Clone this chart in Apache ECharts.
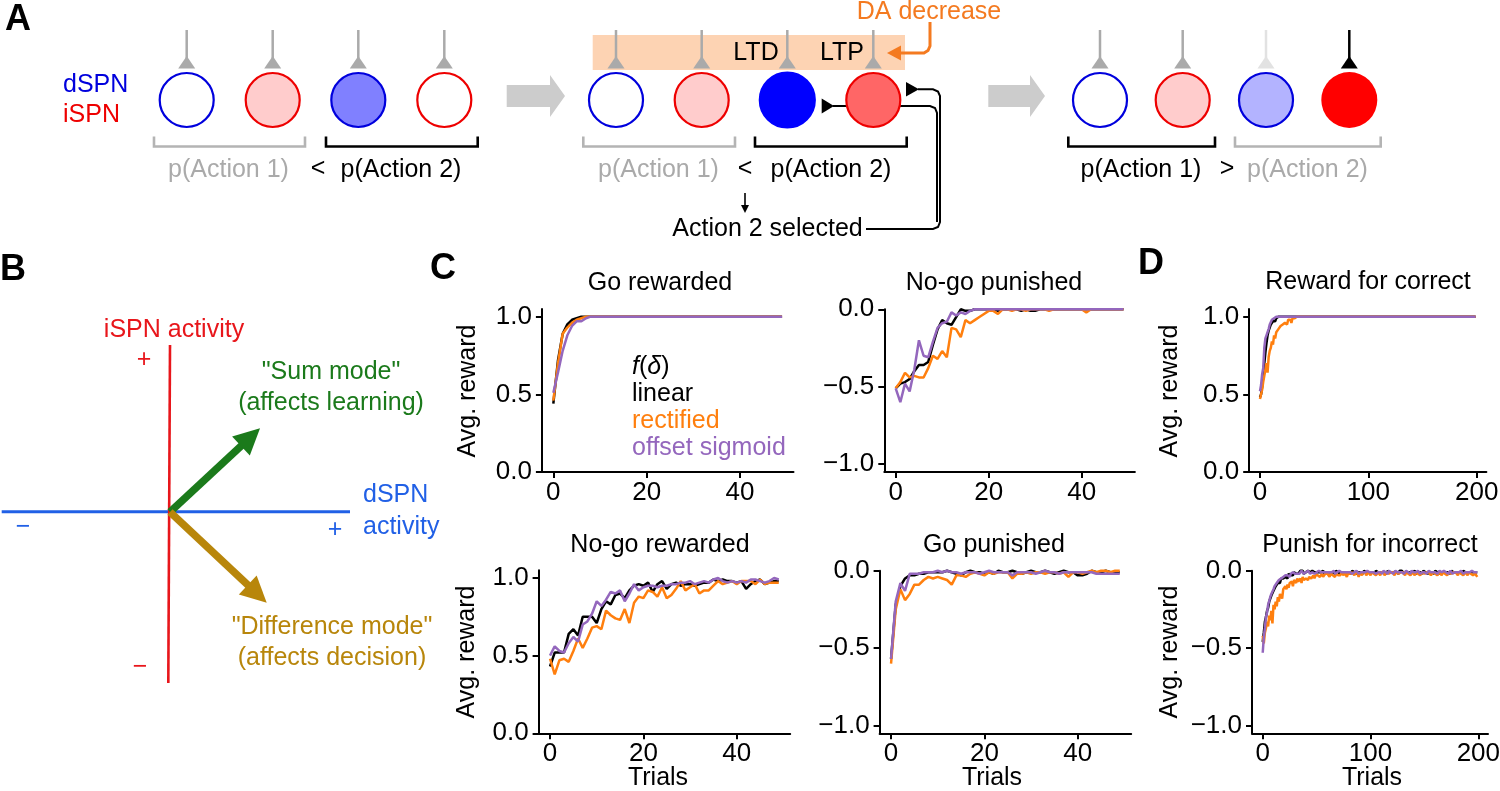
<!DOCTYPE html>
<html>
<head>
<meta charset="utf-8">
<script src="https://cdn.jsdelivr.net/npm/echarts@6/dist/echarts.min.js"></script>
<style>
  html, body { margin: 0; background: #fff; }
  #main { width: 1500px; height: 791px; }
</style>
</head>
<body>
<div id="main"></div>
<script>
// ---- data ----
// x of every series is the trial index 0..N-1
const xTicksC = [0, 20, 40];
const xTicksD = [0, 100, 200];
const yTicksReward = [0, 0.5, 1];
const yTicksPunish = [-1, -0.5, 0];
const fNames = ['linear', 'rectified', 'offset sigmoid'];

// C: Go rewarded
const goRewardedLinear = [
  0.44,0.72,0.89,0.95,0.98,0.99,1,1,1,1,
  1,1,1,1,1,1,1,1,1,1,
  1,1,1,1,1,1,1,1,1,1,
  1,1,1,1,1,1,1,1,1,1,
  1,1,1,1,1,1,1,1,1,1];
const goRewardedRectified = [
  0.46,0.70,0.89,0.93,0.96,0.98,0.99,1,1,1,
  1,1,1,1,1,1,1,1,1,1,
  1,1,1,1,1,1,1,1,1,1,
  1,1,1,1,1,1,1,1,1,1,
  1,1,1,1,1,1,1,1,1,1];
const goRewardedSigmoid = [
  0.51,0.64,0.78,0.88,0.94,0.97,0.97,0.99,1,1,
  1,1,1,1,1,1,1,1,1,1,
  1,1,1,1,1,1,1,1,1,1,
  1,1,1,1,1,1,1,1,1,1,
  1,1,1,1,1,1,1,1,1,1];

// C: No-go punished
const noGoPunishedLinear = [
  -0.51,-0.48,-0.47,-0.45,-0.40,-0.36,-0.36,-0.34,-0.23,-0.13,
  -0.07,-0.09,-0.10,-0.05,0,-0.01,-0.01,0,0,0,
  0,0,-0.01,0,0,0,0,-0.01,0,-0.01,
  -0.01,0,0,0,0,0,0,0,0,0,
  0,0,0,0,0,0,0,0,0,0];
const noGoPunishedRectified = [
  -0.51,-0.47,-0.41,-0.44,-0.43,-0.44,-0.44,-0.38,-0.30,-0.32,
  -0.27,-0.31,-0.12,-0.13,-0.18,-0.07,-0.09,-0.07,-0.05,-0.03,
  -0.01,-0.01,-0.03,0,0,-0.01,0,0,-0.01,0,
  0,0,0,-0.01,0,0,0,0,0,0,
  0,-0.02,0,0,0,0,0,0,0,0];
const noGoPunishedSigmoid = [
  -0.51,-0.60,-0.48,-0.53,-0.39,-0.20,-0.30,-0.31,-0.21,-0.12,
  -0.09,-0.08,-0.02,-0.04,-0.02,-0.03,-0.01,0,0,0,
  0,0,0,0,0,0,0,0,0,0,
  0,0,0,0,0,0,0,0,0,0,
  0,0,0,0,0,0,0,0,0,0];

// C: No-go rewarded
const noGoRewardedLinear = [
  0.43,0.52,0.52,0.52,0.64,0.67,0.63,0.75,0.75,0.75,
  0.71,0.80,0.85,0.83,0.89,0.90,0.87,0.92,0.95,0.96,
  0.95,0.97,0.91,0.96,0.98,0.93,0.96,0.97,0.95,0.96,
  0.96,0.95,0.96,0.97,0.97,0.99,0.98,0.99,0.98,0.98,
  0.97,0.98,0.93,0.96,0.98,0.99,0.96,0.97,0.98,0.98];
const noGoRewardedRectified = [
  0.48,0.38,0.47,0.48,0.46,0.53,0.61,0.55,0.61,0.68,
  0.69,0.67,0.79,0.76,0.74,0.73,0.80,0.71,0.84,0.88,
  0.87,0.92,0.91,0.88,0.94,0.87,0.89,0.93,0.98,0.92,
  0.94,0.96,0.90,0.92,0.92,0.95,0.98,0.96,0.97,0.98,
  0.96,0.98,0.98,0.98,0.96,0.99,0.96,0.97,0.97,0.97];
const noGoRewardedSigmoid = [
  0.50,0.56,0.53,0.52,0.58,0.62,0.59,0.70,0.72,0.77,
  0.85,0.82,0.86,0.91,0.90,0.92,0.85,0.90,0.96,0.92,
  0.94,0.95,0.95,0.94,0.95,0.95,0.96,0.96,0.97,0.97,
  0.98,0.96,0.97,0.98,0.97,0.99,1.00,0.98,0.97,0.98,
  0.97,0.98,0.97,0.99,0.99,0.98,0.97,0.98,1.00,0.99];

// C: Go punished
const goPunishedLinear = [
  -0.57,-0.22,-0.10,-0.05,-0.03,-0.03,-0.02,-0.02,-0.01,-0.01,
  -0.01,-0.01,0,-0.01,-0.02,-0.03,-0.01,0,-0.01,-0.01,
  -0.02,-0.01,-0.02,0,-0.01,-0.01,0,-0.01,-0.02,-0.01,
  0,-0.01,-0.01,0,-0.01,-0.02,-0.01,0,-0.01,-0.01,
  -0.03,-0.03,-0.02,0,-0.01,-0.01,0,-0.01,-0.01,-0.01];
const goPunishedRectified = [
  -0.60,-0.25,-0.12,-0.19,-0.15,-0.09,-0.09,-0.06,-0.04,-0.05,
  -0.04,-0.05,-0.06,-0.09,-0.03,-0.03,-0.04,-0.02,-0.01,-0.02,
  -0.03,-0.01,-0.02,-0.01,-0.01,-0.01,-0.05,-0.02,-0.02,-0.01,
  -0.02,-0.01,-0.01,-0.02,-0.01,-0.01,-0.02,-0.01,-0.04,-0.01,
  -0.01,-0.02,-0.01,0,-0.01,0,0,-0.01,0,0];
const goPunishedSigmoid = [
  -0.57,-0.20,-0.08,-0.13,-0.02,-0.02,-0.02,-0.01,-0.01,-0.01,
  0,-0.01,0,-0.01,-0.01,-0.02,-0.01,-0.01,-0.01,-0.02,
  -0.01,0,-0.01,-0.01,-0.01,-0.01,-0.03,-0.01,-0.01,-0.01,
  -0.01,-0.02,-0.01,0,-0.01,-0.01,-0.02,-0.01,-0.01,-0.01,
  -0.01,-0.01,-0.01,-0.01,-0.02,-0.02,-0.02,-0.02,-0.02,-0.02];

// D: Reward for correct (200 trials)
const rewardCorrectLinear = [
  0.48,0.50,0.55,0.62,0.70,0.77,0.83,0.88,0.91,0.93,0.95,0.95,0.97,0.98,0.97,0.99,0.99,1,0.99,1,
  1,1,1,1,1,1,1,1,1,1,1,1,1,1,1,1,1,1,1,1,
  1,1,1,1,1,1,1,1,1,1,1,1,1,1,1,1,1,1,1,1,
  1,1,1,1,1,1,1,1,1,1,1,1,1,1,1,1,1,1,1,1,
  1,1,1,1,1,1,1,1,1,1,1,1,1,1,1,1,1,1,1,1,
  1,1,1,1,1,1,1,1,1,1,1,1,1,1,1,1,1,1,1,1,
  1,1,1,1,1,1,1,1,1,1,1,1,1,1,1,1,1,1,1,1,
  1,1,1,1,1,1,1,1,1,1,1,1,1,1,1,1,1,1,1,1,
  1,1,1,1,1,1,1,1,1,1,1,1,1,1,1,1,1,1,1,1,
  1,1,1,1,1,1,1,1,1,1,1,1,1,1,1,1,1,1,1,1];
const rewardCorrectRectified = [
  0.47,0.50,0.53,0.58,0.62,0.66,0.70,0.64,0.74,0.78,0.80,0.84,0.82,0.88,0.86,0.90,0.89,0.92,0.91,0.94,
  0.93,0.95,0.94,0.96,0.97,0.95,0.98,0.97,0.98,0.96,0.99,0.98,0.99,0.99,1,0.99,1,1,1,1,
  1,1,1,1,1,1,1,1,1,1,1,1,1,1,1,1,1,1,1,1,
  1,1,1,1,1,1,1,1,1,1,1,1,1,1,1,1,1,1,1,1,
  1,1,1,1,1,1,1,1,1,1,1,1,1,1,1,1,1,1,1,1,
  1,1,1,1,1,1,1,1,1,1,1,1,1,1,1,1,1,1,1,1,
  1,1,1,1,1,1,1,1,1,1,1,1,1,1,1,1,1,1,1,1,
  1,1,1,1,1,1,1,1,1,1,1,1,1,1,1,1,1,1,1,1,
  1,1,1,1,1,1,1,1,1,1,1,1,1,1,1,1,1,1,1,1,
  1,1,1,1,1,1,1,1,1,1,1,1,1,1,1,1,1,1,1,1];
const rewardCorrectSigmoid = [
  0.52,0.56,0.63,0.67,0.80,0.86,0.88,0.90,0.92,0.95,0.94,0.98,0.97,0.99,0.98,1,0.99,1,1,1,
  1,1,1,1,1,1,1,1,1,1,1,1,1,1,1,1,1,1,1,1,
  1,1,1,1,1,1,1,1,1,1,1,1,1,1,1,1,1,1,1,1,
  1,1,1,1,1,1,1,1,1,1,1,1,1,1,1,1,1,1,1,1,
  1,1,1,1,1,1,1,1,1,1,1,1,1,1,1,1,1,1,1,1,
  1,1,1,1,1,1,1,1,1,1,1,1,1,1,1,1,1,1,1,1,
  1,1,1,1,1,1,1,1,1,1,1,1,1,1,1,1,1,1,1,1,
  1,1,1,1,1,1,1,1,1,1,1,1,1,1,1,1,1,1,1,1,
  1,1,1,1,1,1,1,1,1,1,1,1,1,1,1,1,1,1,1,1,
  1,1,1,1,1,1,1,1,1,1,1,1,1,1,1,1,1,1,1,1];

// D: Punish for incorrect (200 trials)
const punishIncorrectLinear = [
  -0.46,-0.40,-0.33,-0.30,-0.26,-0.24,-0.20,-0.19,-0.16,-0.15,-0.13,-0.12,-0.10,-0.11,-0.08,-0.07,-0.08,-0.05,-0.06,-0.05,
  -0.05,-0.04,-0.03,-0.05,-0.02,-0.03,-0.03,-0.02,-0.03,-0.01,-0.02,-0.02,-0.01,-0.02,-0.01,0,-0.01,0,-0.02,-0.01,
  -0.01,-0.02,0,-0.01,-0.01,-0.02,0,-0.01,-0.01,-0.02,-0.01,0,-0.01,-0.02,-0.01,-0.01,0,-0.02,-0.01,-0.01,
  0,-0.01,-0.02,-0.01,0,-0.01,-0.01,-0.02,0,-0.01,-0.01,0,-0.02,-0.01,-0.01,0,-0.01,-0.02,-0.01,0,
  -0.01,-0.01,-0.02,0,-0.01,-0.01,0,-0.02,-0.01,-0.01,0,-0.01,-0.01,-0.02,0,-0.01,-0.01,0,-0.01,-0.02,
  -0.01,0,-0.01,-0.01,-0.02,0,-0.01,-0.01,0,-0.01,-0.02,-0.01,0,-0.01,-0.01,-0.02,0,-0.01,-0.01,0,
  -0.01,-0.02,-0.01,0,-0.01,-0.01,-0.02,0,-0.01,0,-0.01,-0.02,-0.01,-0.01,0,-0.01,-0.02,-0.01,0,-0.01,
  -0.01,0,-0.02,-0.01,-0.01,0,-0.01,-0.01,-0.02,0,-0.01,-0.01,0,-0.02,-0.01,-0.01,0,-0.01,-0.01,-0.02,
  0,-0.01,-0.01,0,-0.02,-0.01,-0.01,0,-0.01,-0.02,-0.01,0,-0.01,-0.01,-0.02,0,-0.01,-0.01,0,-0.01,
  -0.02,-0.01,0,-0.01,-0.01,-0.02,0,-0.01,-0.01,0,-0.02,-0.01,-0.01,0,-0.01,-0.02,-0.01,0,-0.01,-0.01];
const punishIncorrectRectified = [
  -0.42,-0.47,-0.40,-0.37,-0.33,-0.36,-0.29,-0.32,-0.26,-0.34,-0.22,-0.25,-0.20,-0.23,-0.17,-0.20,-0.15,-0.14,-0.18,-0.12,
  -0.13,-0.10,-0.12,-0.09,-0.11,-0.08,-0.09,-0.07,-0.10,-0.06,-0.07,-0.08,-0.05,-0.07,-0.06,-0.05,-0.08,-0.04,-0.06,-0.05,
  -0.05,-0.04,-0.06,-0.04,-0.03,-0.05,-0.04,-0.03,-0.05,-0.03,-0.04,-0.03,-0.02,-0.04,-0.03,-0.02,-0.04,-0.03,-0.02,-0.03,
  -0.02,-0.03,-0.04,-0.02,-0.01,-0.03,-0.02,-0.04,-0.02,-0.01,-0.03,-0.02,-0.03,-0.01,-0.02,-0.03,-0.01,-0.02,-0.04,-0.02,
  -0.01,-0.02,-0.03,-0.01,-0.02,-0.03,-0.01,-0.02,-0.02,-0.04,-0.01,-0.02,-0.03,-0.01,-0.02,-0.01,-0.03,-0.02,-0.01,-0.02,
  -0.03,-0.01,-0.02,-0.02,-0.01,-0.03,-0.02,-0.01,-0.02,-0.03,-0.01,-0.02,-0.01,-0.03,-0.02,-0.01,-0.02,-0.02,-0.03,-0.01,
  -0.02,-0.01,-0.03,-0.02,-0.01,-0.02,-0.02,-0.03,-0.01,-0.02,-0.01,-0.02,-0.03,-0.01,-0.02,-0.02,-0.01,-0.03,-0.02,-0.01,
  -0.02,-0.03,-0.01,-0.02,-0.02,-0.01,-0.03,-0.02,-0.01,-0.02,-0.02,-0.03,-0.01,-0.02,-0.01,-0.02,-0.03,-0.02,-0.01,-0.02,
  -0.02,-0.01,-0.03,-0.02,-0.01,-0.02,-0.03,-0.01,-0.02,-0.02,-0.01,-0.03,-0.02,-0.01,-0.02,-0.02,-0.03,-0.01,-0.02,-0.01,
  -0.02,-0.03,-0.01,-0.02,-0.02,-0.01,-0.03,-0.02,-0.01,-0.02,-0.03,-0.01,-0.02,-0.02,-0.01,-0.03,-0.02,-0.02,-0.03,-0.04];
const punishIncorrectSigmoid = [
  -0.53,-0.43,-0.37,-0.30,-0.27,-0.22,-0.21,-0.17,-0.15,-0.14,-0.12,-0.10,-0.10,-0.08,-0.08,-0.06,-0.07,-0.05,-0.05,-0.04,
  -0.05,-0.03,-0.04,-0.03,-0.02,-0.04,-0.02,-0.03,-0.01,-0.02,-0.02,-0.01,-0.02,-0.01,-0.02,-0.01,0,-0.01,-0.02,-0.01,
  -0.01,-0.02,0,-0.01,-0.02,-0.01,-0.01,0,-0.02,-0.01,-0.01,-0.02,0,-0.01,-0.01,-0.02,-0.01,0,-0.01,-0.02,
  -0.01,0,-0.01,-0.02,-0.01,-0.01,0,-0.02,-0.01,-0.01,-0.02,0,-0.01,-0.01,-0.02,-0.01,0,-0.01,-0.02,-0.01,
  -0.01,-0.01,0,-0.02,-0.01,-0.01,-0.01,0,-0.01,-0.02,-0.01,-0.01,0,-0.01,-0.02,-0.01,-0.01,0,-0.01,-0.01,
  -0.02,-0.01,0,-0.01,-0.01,-0.02,-0.01,-0.01,0,-0.01,-0.01,-0.02,0,-0.01,-0.01,-0.01,-0.02,0,-0.01,-0.01,
  -0.01,-0.02,-0.01,0,-0.01,-0.01,-0.02,-0.01,0,-0.01,-0.01,-0.02,-0.01,0,-0.01,-0.01,-0.01,-0.02,0,-0.01,
  -0.01,-0.02,-0.01,-0.01,0,-0.01,-0.02,-0.01,-0.01,0,-0.01,-0.01,-0.02,-0.01,0,-0.01,-0.01,-0.02,-0.01,0,
  -0.01,-0.01,-0.02,-0.01,0,-0.01,-0.01,-0.02,0,-0.01,-0.01,-0.01,-0.02,-0.01,0,-0.01,-0.02,-0.01,-0.01,0,
  -0.01,-0.02,-0.01,-0.01,0,-0.01,-0.02,-0.01,-0.01,0,-0.01,-0.02,-0.01,-0.01,0,-0.01,-0.01,-0.02,-0.01,-0.01];

// ---- styling / layout ----
const FF = '"Liberation Sans", Arial, sans-serif';
const lineColors = ['#000000', '#ff7f0e', '#9467bd'];

// one entry per axes: C top-left, C top-right, C bottom-left, C bottom-right, D top, D bottom
const panels = [
  { l: 541.9, t: 308.9, w: 251.6, h: 163.1, x: [-2.45, 51.45], xt: xTicksC, kind: 'reward',
    sets: [goRewardedLinear, goRewardedRectified, goRewardedSigmoid] },
  { l: 884.3, t: 309.3, w: 250.6, h: 162.6, x: [-2.45, 51.45], xt: xTicksC, kind: 'punish',
    sets: [noGoPunishedLinear, noGoPunishedRectified, noGoPunishedSigmoid] },
  { l: 538.6, t: 570.2, w: 251.6, h: 163.1, x: [-2.45, 51.45], xt: xTicksC, kind: 'reward',
    sets: [noGoRewardedLinear, noGoRewardedRectified, noGoRewardedSigmoid] },
  { l: 879.6, t: 570.7, w: 251.6, h: 162.6, x: [-2.45, 51.45], xt: xTicksC, kind: 'punish',
    sets: [goPunishedLinear, goPunishedRectified, goPunishedSigmoid] },
  { l: 1249.2, t: 308.9, w: 237.2, h: 163.1, x: [-9.95, 208.95], xt: xTicksD, kind: 'reward',
    sets: [rewardCorrectLinear, rewardCorrectRectified, rewardCorrectSigmoid] },
  { l: 1252.0, t: 570.7, w: 236.0, h: 162.6, x: [-9.95, 208.95], xt: xTicksD, kind: 'punish',
    sets: [punishIncorrectLinear, punishIncorrectRectified, punishIncorrectSigmoid] }
];

const axisLineStyle = { color: '#000', width: 2 };
const fmtY = v => (v < 0 ? '\u2212' : '') + Math.abs(v).toFixed(1);

const series = [];
panels.forEach((p, gi) => {
  p.sets.forEach((ys, k) => {
    series.push({
      type: 'line', name: fNames[k], xAxisIndex: gi, yAxisIndex: gi,
      data: ys.map((y, i) => [i, y]),
      showSymbol: false, symbol: 'none', clip: false, silent: true,
      lineStyle: { color: lineColors[k], width: 2.5 },
      itemStyle: { color: lineColors[k] },
      z: 2 + k
    });
  });
});

// ---- schematic helpers (panels A and B) ----
function txt(text, x, y, o) {
  o = o || {};
  const st = {
    text: text, x: 0, y: 0, fill: o.color || '#000', fontSize: o.size || 25, fontFamily: FF,
    fontWeight: o.weight || 'normal', fontStyle: o.italic ? 'italic' : 'normal',
    align: o.align || 'center', verticalAlign: 'middle'
  };
  if (o.rich) st.rich = o.rich;
  return { type: 'text', x: x, y: y, rotation: o.rot || 0, silent: true, style: st };
}
function seg(x1, y1, x2, y2, color, w) {
  return { type: 'line', silent: true, shape: { x1, y1, x2, y2 }, style: { stroke: color, lineWidth: w || 2.5 } };
}
function poly(points, color) {
  return { type: 'polygon', silent: true, shape: { points }, style: { fill: color } };
}
function pline(points, color, w) {
  return { type: 'polyline', silent: true, shape: { points }, style: { stroke: color, lineWidth: w || 2.5, fill: null } };
}
function circ(cx, cy, r, fill, stroke) {
  return { type: 'circle', silent: true, shape: { cx, cy, r },
    style: { fill: fill, stroke: stroke || null, lineWidth: stroke ? 2.2 : 0 } };
}
function synapse(x, color) {
  return [seg(x, 30, x, 58, color, 2.5), poly([[x, 56], [x - 8.5, 68.5], [x + 8.5, 68.5]], color)];
}
function bracket(x1, x2, color) {
  return pline([[x1, 136.5], [x1, 146.5], [x2, 146.5], [x2, 136.5]], color, 2.6);
}
function bigArrow(x0, xh, xt) {
  return poly([[x0, 85], [xh, 85], [xh, 75], [xt, 96], [xh, 117], [xh, 107], [x0, 107]], '#cccccc');
}
function fatArrow(x0, y0, x1, y1, color) {
  const dx = x1 - x0, dy = y1 - y0, L = Math.hypot(dx, dy);
  const ux = dx / L, uy = dy / L, nx = -uy, ny = ux;
  const hl = 26, hw = 13;
  const bx = x1 - ux * hl, by = y1 - uy * hl;
  return [
    seg(x0, y0, bx + ux * 2, by + uy * 2, color, 7.5),
    poly([[x1, y1], [bx + nx * hw, by + ny * hw], [bx - nx * hw, by - ny * hw]], color)
  ];
}

const BLUE = '#0000dd', RED = '#ee0000', GREY = '#aaaaaa', LGREY = '#b4b4b4';
const g = [];

// panel letters
g.push(txt('A', 18, 20, { size: 36, weight: 'bold' }));
g.push(txt('B', 13, 270, { size: 36, weight: 'bold' }));
g.push(txt('C', 443, 269, { size: 36, weight: 'bold' }));
g.push(txt('D', 1151, 264, { size: 36, weight: 'bold' }));

// ---- Panel A: left group ----
g.push(txt('dSPN', 63, 85, { color: BLUE, align: 'left' }));
g.push(txt('iSPN', 63, 115, { color: RED, align: 'left' }));
[186.7, 272.7, 358.3, 444.3].forEach(x => g.push(...synapse(x, GREY)));
g.push(circ(186.7, 100, 27, '#ffffff', BLUE));
g.push(circ(272.7, 100, 27, '#ffcccc', RED));
g.push(circ(358.3, 100, 27, '#8080ff', BLUE));
g.push(circ(444.3, 100, 27, '#ffffff', RED));
g.push(bracket(154, 305, LGREY));
g.push(bracket(326, 477.7, '#000'));
g.push(txt('p(Action 1)', 228.5, 170, { color: GREY }));
g.push(txt('<', 318, 169));
g.push(txt('p(Action 2)', 401, 170));

g.push(bigArrow(506.7, 550, 565));

// ---- Panel A: middle group ----
g.push({ type: 'rect', silent: true, shape: { x: 592.7, y: 35, width: 312.3, height: 35 }, style: { fill: '#fdd3b3' } });
[616, 701.7, 787.3, 873.3].forEach(x => g.push(...synapse(x, GREY)));
g.push(txt('LTD', 756, 53));
g.push(txt('LTP', 842, 53));
// DA decrease arrow
g.push(txt('DA decrease', 929, 12, { color: '#f47a20' }));
g.push(pline([[930, 22], [930, 46], [928, 50.5], [924, 53], [900, 53]], '#f47a20', 3));
g.push(poly([[887, 53], [901, 45.5], [901, 60.5]], '#f47a20'));
// action-selection feedback lines
g.push(pline([[833, 106], [930, 106], [935, 108], [937, 113], [937, 222]], '#000', 2));
g.push(pline([[918, 89.3], [933, 89.3], [938, 91.5], [940, 96], [940, 222], [938, 227], [933, 229], [866, 229]], '#000', 2));
g.push(circ(616, 100, 27, '#ffffff', BLUE));
g.push(circ(701.7, 100, 27, '#ffcccc', RED));
g.push(circ(787.3, 100, 27.5, '#0000ff', '#0000ff'));
g.push(circ(873.3, 100, 27, '#ff6666', RED));
g.push(poly([[821.7, 98.5], [821.7, 113.5], [834, 106]], '#000'));
g.push(poly([[906, 82], [906, 96.5], [919, 89.3]], '#000'));
g.push(bracket(583.3, 735, LGREY));
g.push(bracket(755, 906.7, '#000'));
g.push(txt('p(Action 1)', 658.5, 170, { color: GREY }));
g.push(txt('<', 745, 169));
g.push(txt('p(Action 2)', 831, 170));
g.push(seg(745, 193, 745, 207, '#000', 1.6));
g.push(poly([[741, 205], [749, 205], [745, 213]], '#000'));
g.push(txt('Action 2 selected', 767.5, 229));

g.push(bigArrow(988.3, 1030, 1045));

// ---- Panel A: right group ----
g.push(...synapse(1100, GREY));
g.push(...synapse(1182.7, GREY));
g.push(...synapse(1266, '#e2e2e2'));
g.push(...synapse(1349.3, '#000'));
g.push(circ(1100, 100, 27, '#ffffff', BLUE));
g.push(circ(1182.7, 100, 27, '#ffcccc', RED));
g.push(circ(1266, 100, 27, '#b3b3ff', BLUE));
g.push(circ(1349.3, 100, 28, '#ff0000'));
g.push(bracket(1068.3, 1215, '#000'));
g.push(bracket(1235, 1380.7, LGREY));
g.push(txt('p(Action 1)', 1141, 170));
g.push(txt('>', 1227, 169));
g.push(txt('p(Action 2)', 1307.5, 170, { color: GREY }));

// ---- Panel B ----
const BBLUE = '#2160e6', BRED = '#e8161b', BGREEN = '#1b7a1b', BGOLD = '#b8860b';
g.push(seg(1.7, 511.7, 350, 511.7, BBLUE, 3));
g.push(seg(170, 345, 168.3, 683, BRED, 2.6));
g.push(...fatArrow(170, 512, 260, 428.3, BGREEN));
g.push(...fatArrow(170, 512, 266.7, 602.7, BGOLD));
g.push(txt('iSPN activity', 174, 330, { color: BRED }));
g.push(txt('+', 144, 360, { color: BRED }));
g.push(txt('\u2212', 140, 667, { color: BRED }));
g.push(txt('\u2212', 23, 527, { color: BBLUE }));
g.push(txt('+', 335, 530, { color: BBLUE }));
g.push(txt('dSPN', 363, 495, { color: BBLUE, align: 'left' }));
g.push(txt('activity', 363, 527, { color: BBLUE, align: 'left' }));
g.push(txt('"Sum mode"', 331, 372, { color: BGREEN }));
g.push(txt('(affects learning)', 331, 403, { color: BGREEN }));
g.push(txt('"Difference mode"', 332, 627, { color: BGOLD }));
g.push(txt('(affects decision)', 332, 658, { color: BGOLD }));

// ---- titles, axis names, legend for C / D ----
g.push(txt('Go rewarded', 660, 283));
g.push(txt('No-go punished', 994, 283));
g.push(txt('No-go rewarded', 660, 545));
g.push(txt('Go punished', 994, 545));
g.push(txt('Reward for correct', 1368, 282));
g.push(txt('Punish for incorrect', 1370, 545));
[[468, 391], [467, 652], [1170, 391], [1170, 652]].forEach(c =>
  g.push(txt('Avg. reward', c[0], c[1], { rot: Math.PI / 2 })));
[[658, 778], [992, 778], [1372, 778]].forEach(c => g.push(txt('Trials', c[0], c[1])));

g.push(txt('{i|f}({i|\u03b4})', 632, 367, { align: 'left',
  rich: { i: { fontStyle: 'italic', fontSize: 25, fontFamily: FF, fill: '#000' } } }));
fNames.forEach((n, k) => g.push(txt(n, 632, 394 + k * 27, { color: lineColors[k], align: 'left' })));

const option = {
  animation: false,
  backgroundColor: '#ffffff',
  textStyle: { fontFamily: FF },
  grid: panels.map(p => ({ left: p.l, top: p.t, width: p.w, height: p.h, containLabel: false, outerBoundsMode: 'none', show: false })),
  xAxis: panels.map((p, i) => ({
    type: 'value', gridIndex: i, min: p.x[0], max: p.x[1],
    axisLine: { show: true, onZero: false, lineStyle: axisLineStyle },
    axisTick: { show: true, customValues: p.xt, length: 6, inside: false, lineStyle: axisLineStyle },
    axisLabel: { show: true, customValues: p.xt, color: '#000', fontSize: 26, fontFamily: FF, margin: 8 },
    splitLine: { show: false }
  })),
  yAxis: panels.map((p, i) => {
    const ticks = p.kind === 'reward' ? yTicksReward : yTicksPunish;
    return {
      type: 'value', gridIndex: i,
      min: p.kind === 'reward' ? 0 : -1.05, max: p.kind === 'reward' ? 1.05 : 0,
      axisLine: { show: true, onZero: false, lineStyle: axisLineStyle },
      axisTick: { show: true, customValues: ticks, length: 6, inside: false, lineStyle: axisLineStyle },
      axisLabel: { show: true, customValues: ticks, color: '#000', fontSize: 26, fontFamily: FF, margin: 10, formatter: fmtY },
      splitLine: { show: false }
    };
  }),
  series: series,
  graphic: { elements: g }
};

const chart = echarts.init(document.getElementById('main'), null, { renderer: 'canvas' });
chart.setOption(option);
</script>
</body>
</html>
